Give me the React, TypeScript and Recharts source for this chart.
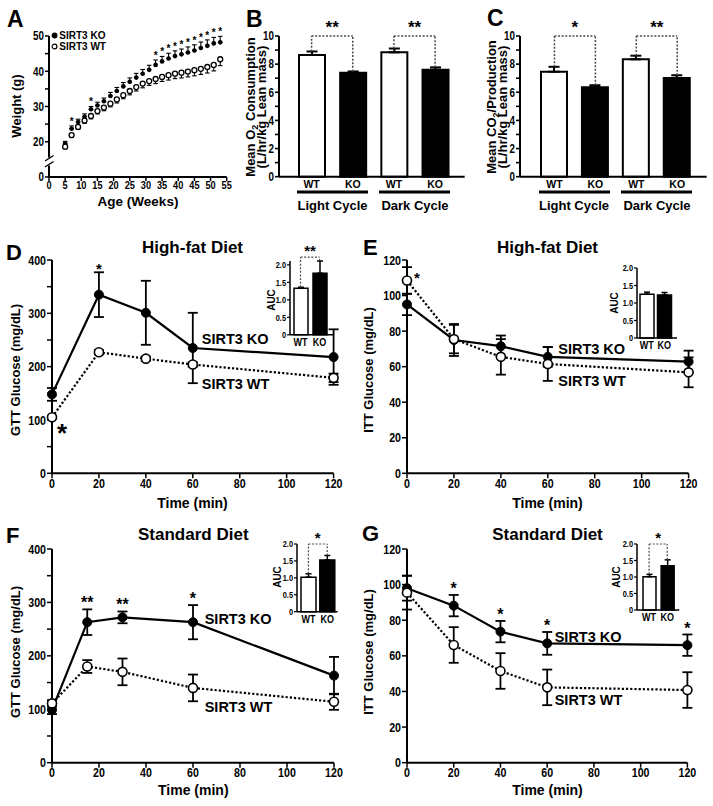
import React from 'react';
import {
  ComposedChart, ScatterChart, Scatter, Line, Bar, Cell, XAxis, YAxis,
  ErrorBar, ReferenceLine, Legend,
} from 'recharts';

const FONT = "'Liberation Sans', Arial, Helvetica, sans-serif";

// ---------- Panel A: body weight ----------
const ageWeeks = [5, 7, 9, 11, 13, 15, 17, 19, 21, 23, 25, 27, 29, 31, 33, 35, 37, 39, 41, 43, 45, 47, 49, 51, 53];
const koWeight = [19.5, 23.7, 25.6, 27.1, 29.2, 30.3, 31.5, 33.0, 34.4, 35.7, 37.0, 38.2, 39.3, 40.4, 41.8, 42.8, 43.6, 44.3, 44.8, 45.3, 45.9, 46.6, 47.2, 47.9, 48.2];
const koWeightSem = [0.6, 0.8, 0.8, 0.8, 0.8, 0.9, 0.9, 1.0, 1.0, 1.1, 1.1, 1.2, 1.2, 1.3, 1.4, 1.4, 1.5, 1.5, 1.5, 1.6, 1.6, 1.7, 1.7, 1.7, 1.7];
const wtWeight = [18.6, 21.9, 24.2, 26.0, 27.3, 28.7, 29.7, 30.8, 32.0, 33.2, 34.4, 35.5, 36.5, 37.2, 37.8, 38.4, 38.9, 39.3, 39.6, 39.9, 40.3, 40.7, 41.2, 41.8, 43.4];
const wtWeightSem = [0.6, 0.7, 0.7, 0.8, 0.8, 0.8, 0.9, 0.9, 1.0, 1.0, 1.1, 1.1, 1.2, 1.2, 1.3, 1.3, 1.4, 1.4, 1.5, 1.5, 1.6, 1.6, 1.7, 1.7, 1.8];
const weightSigWeeks = [7, 13, 33, 35, 37, 39, 41, 43, 45, 47, 49, 51, 53];
const weekTicks = [0, 5, 10, 15, 20, 25, 30, 35, 40, 45, 50, 55];
const weightTicks = [10, 15, 20, 25, 30, 35, 40, 45, 50];

// ---------- Panels B, C: indirect calorimetry ----------
const cycleIds = ['L-WT', 'L-KO', 'D-WT', 'D-KO'];
const cycleGeno = ['WT', 'KO', 'WT', 'KO'];
const o2Mean = [8.65, 7.38, 8.84, 7.6];
const o2Sem = [0.25, 0.1, 0.27, 0.17];
const o2Sig = ['**', '**'];
const co2Mean = [7.46, 6.35, 8.34, 7.01];
const co2Sem = [0.35, 0.15, 0.26, 0.2];
const co2Sig = ['*', '**'];
const calTicks = [0, 1, 2, 3, 4, 5, 6, 7, 8, 9, 10];

// ---------- Panels D-G: GTT / ITT ----------
const hfTime = [0, 20, 40, 60, 120];
const hfGttKo = [148, 335, 301, 235, 218];
const hfGttKoSem = [12, 42, 60, 66, 52];
const hfGttWt = [105, 227, 215, 204, 179];
const hfGttWtSem = [3, 4, 4, 4, 8];
const hfGttSigTimes = [20];

const hfIttKo = [95, 75, 71.5, 65.5, 62.8];
const hfIttKoSem = [6, 9, 6, 5.5, 6.2];
const hfIttWt = [108.5, 75.5, 65.5, 61.5, 56.8];
const hfIttWtSem = [7.5, 8, 10, 9.5, 8.4];
const hfIttSigTimes: number[] = [];

const sdGttTime = [0, 15, 30, 60, 120];
const sdGttKo = [99, 263, 272, 263, 163];
const sdGttKoSem = [8, 24, 11, 32, 35];
const sdGttWt = [111, 180, 170, 140, 114];
const sdGttWtSem = [6, 12, 25, 25, 15];
const sdGttSigTimes = [15, 30, 60];
const sdGttSigMarks = ['**', '**', '*'];

const sdIttTime = [0, 20, 40, 60, 120];
const sdIttKo = [98, 88.2, 73.6, 67, 66];
const sdIttKoSem = [7, 6, 6, 6.4, 6];
const sdIttWt = [95.5, 66.1, 51.5, 42.3, 40.8];
const sdIttWtSem = [9.5, 10, 10, 10, 10];
const sdIttSigTimes = [20, 40, 60, 120];

const timeTicks = [0, 20, 40, 60, 80, 100, 120];
const gttTicks = [0, 50, 100, 150, 200, 250, 300, 350, 400];
const ittTicks = [0, 20, 40, 60, 80, 100, 120];

// ---------- AUC insets ----------
const aucGroups = ['WT', 'KO'];
const hfGttAuc = [1.33, 1.76];
const hfGttAucSem = [0.03, 0.35];
const hfIttAuc = [1.25, 1.23];
const hfIttAucSem = [0.06, 0.07];
const sdGttAuc = [1.02, 1.53];
const sdGttAucSem = [0.1, 0.13];
const sdIttAuc = [1.01, 1.34];
const sdIttAucSem = [0.07, 0.18];
const aucTicks = [0, 0.5, 1, 1.5, 2];

// ---------- helpers ----------
type Plot = { x0: number; x1: number; y0: number; y1: number };
function frame(plot: Plot, yW: number, xH: number, mt: number, mr: number) {
  const L = plot.x0 - yW;
  const T = plot.y0 - mt;
  return { L, T, W: plot.x1 - L + mr, H: plot.y1 - T + xH };
}
const axisLine = { stroke: '#000', strokeWidth: 2 };
const tickLine = { stroke: '#000', strokeWidth: 1.5 };

// condensed bold tick label (the figure uses a condensed face)
function narrowTick(fs: number, orient: 'left' | 'bottom', fmt?: (v: any) => string, sx = 0.82) {
  return (props: any) => {
    const { x, y, payload } = props;
    const label = fmt ? fmt(payload.value) : String(payload.value);
    if (!label) return <g />;
    return (
      <text transform={`translate(${x},${y}) scale(${sx},1)`} textAnchor={orient === 'left' ? 'end' : 'middle'}
        dy={orient === 'left' ? '0.355em' : '0.71em'} fontSize={fs} fontWeight="bold" fontFamily={FONT} fill="#000">
        {label}
      </text>
    );
  };
}

function textShape(dx: number, dy: number, fs: number, anchor: string) {
  return (p: any) => (
    <text x={p.cx + dx} y={p.cy + dy} textAnchor={anchor} fontSize={fs} fontWeight="bold"
      fontFamily={FONT} fill="#000">{p.payload.mark}</text>
  );
}

// ---------- Panel A ----------
function WeightPanel() {
  const plot = { x0: 49.3, x1: 227, y0: 36, y1: 177 };
  const yW = 35, xH = 20, mt = 20, mr = 6;
  const f = frame(plot, yW, xH, mt, mr);
  const koRows = ageWeeks.map((w, i) => ({ week: w, w: koWeight[i], e: [0, koWeightSem[i]] }));
  const wtRows = ageWeeks.map((w, i) => ({ week: w, w: wtWeight[i], e: [wtWeightSem[i], 0] }));
  const starRows = weightSigWeeks.map((w) => {
    const i = ageWeeks.indexOf(w);
    return { week: w, w: koWeight[i] + koWeightSem[i], mark: '*' };
  });
  return (
    <div style={{ position: 'absolute', left: f.L, top: f.T }}>
      <ScatterChart width={f.W} height={f.H} margin={{ top: mt, right: mr, bottom: 0, left: 0 }}>
        <XAxis type="number" dataKey="week" domain={[0, 55]} ticks={weekTicks} interval={0}
          axisLine={axisLine} tickLine={tickLine} tickSize={4} tickMargin={0} height={xH}
          tick={narrowTick(11.5, 'bottom', undefined, 0.8)} />
        <YAxis type="number" dataKey="w" domain={[10, 50]} ticks={weightTicks} interval={0}
          width={yW} axisLine={axisLine} tickLine={tickLine} tickSize={4} tickMargin={1}
          tick={narrowTick(12, 'left', (v: number) => (v === 10 ? '0' : v % 10 === 0 ? String(v) : ''))} />
        <Legend layout="vertical" align="center" verticalAlign="middle"
          wrapperStyle={{ left: 37, top: 14, width: 90, height: 22 }}
          content={(props: any) => (
            <div style={{ fontFamily: FONT, fontWeight: 'bold', fontSize: 10, color: '#000' }}>
              {(props.payload || []).filter((e: any) => e.type !== 'none').map((e: any) => (
                <div key={e.value} style={{ height: 11, display: 'flex', alignItems: 'center' }}>
                  <svg width={7} height={7} style={{ marginRight: 1 }}>
                    <circle cx={3.5} cy={3.5} r={2.4} fill={String(e.value).includes('KO') ? '#000' : '#fff'}
                      stroke="#000" strokeWidth={1.2} />
                  </svg>
                  <span style={{ lineHeight: '11px' }}>{e.value}</span>
                </div>
              ))}
            </div>
          )} />
        <Scatter name="SIRT3 KO" data={koRows} fill="#000" isAnimationActive={false}
          shape={(p: any) => <circle cx={p.cx} cy={p.cy} r={2.3} fill="#000" />}>
          <ErrorBar dataKey="e" direction="y" width={2.3} strokeWidth={1.1} stroke="#000" />
        </Scatter>
        <Scatter name="SIRT3 WT" data={wtRows} fill="#fff" isAnimationActive={false}
          shape={(p: any) => <circle cx={p.cx} cy={p.cy} r={2.5} fill="#fff" stroke="#000" strokeWidth={1.3} />}>
          <ErrorBar dataKey="e" direction="y" width={2.3} strokeWidth={1.1} stroke="#000" />
        </Scatter>
        <Scatter name="sig" legendType="none" data={starRows} isAnimationActive={false}
          shape={textShape(0, -7 + 0.57 * 10, 10, 'middle')} />
      </ScatterChart>
    </div>
  );
}

// ---------- Bar panels (B, C and AUC insets) ----------
type Bracket = { a: number; b: number; top: number; mark: string };
function BarPanel(props: {
  plot: Plot; ids: string[]; labels: string[]; values: number[]; errs: number[];
  yMax: number; yTicks: number[]; yFmt: (v: number) => string; barSize: number;
  padding: { left: number; right: number }; brackets: Bracket[];
  yW: number; xH: number; mt: number; mr: number; tickFs: number; xTickFs: number; xNarrow: boolean;
  axisW: number; capW: number; starFs: number; starOffset: number; bracketW: number; tickSize: number; xTickMargin: number;
}) {
  const p = props;
  // the value axis is stretched when an error bar rises above the last tick
  const dataTop = Math.max(p.yMax, ...p.values.map((v, i) => v + p.errs[i]));
  const plot = { ...p.plot, y0: p.plot.y1 - ((p.plot.y1 - p.plot.y0) * dataTop) / p.yMax };
  const f = frame(plot, p.yW, p.xH, p.mt, p.mr);
  const rows = p.ids.map((id, i) => ({ id, label: p.labels[i], v: p.values[i], e: [0, p.errs[i]] }));
  const aLine = { stroke: '#000', strokeWidth: p.axisW };
  const dash = { stroke: '#4a4a4a', strokeWidth: p.bracketW, strokeDasharray: '2 1.6' };
  const labelOf = (id: string) => (rows.find((r) => r.id === id) || { label: '' }).label;
  return (
    <div style={{ position: 'absolute', left: f.L, top: f.T }}>
      <ComposedChart width={f.W} height={f.H} data={rows} margin={{ top: p.mt, right: p.mr, bottom: 0, left: 0 }}>
        <XAxis dataKey="id" type="category" padding={p.padding} axisLine={aLine} tickLine={false}
          tickSize={0} tickMargin={p.xTickMargin} height={p.xH} interval={0}
          tickFormatter={labelOf}
          tick={p.xNarrow ? narrowTick(p.xTickFs, 'bottom', labelOf) : { fontSize: p.xTickFs, fontFamily: FONT, fontWeight: 'bold', fill: '#000' }} />
        <YAxis type="number" domain={[0, p.yMax]} ticks={p.yTicks} interval={0} width={p.yW}
          axisLine={aLine} tickLine={{ stroke: '#000', strokeWidth: p.axisW * 0.8 }} tickSize={p.tickSize} tickMargin={1}
          tick={narrowTick(p.tickFs, 'left', p.yFmt)} />
        <Bar dataKey="v" barSize={p.barSize} isAnimationActive={false}>
          {rows.map((r) => (
            <Cell key={r.id} fill={r.label === 'WT' ? '#fff' : '#000'} stroke="#000" strokeWidth={p.axisW} />
          ))}
          <ErrorBar dataKey="e" direction="y" width={p.capW} strokeWidth={p.axisW} stroke="#000" />
        </Bar>
        {p.brackets.map((b, k) => (
          <ReferenceLine key={'v1' + k} ifOverflow="visible" {...dash}
            segment={[{ x: p.ids[b.a], y: p.values[b.a] + p.errs[b.a] }, { x: p.ids[b.a], y: b.top }]} />
        ))}
        {p.brackets.map((b, k) => (
          <ReferenceLine key={'v2' + k} ifOverflow="visible" {...dash}
            segment={[{ x: p.ids[b.b], y: p.values[b.b] + p.errs[b.b] }, { x: p.ids[b.b], y: b.top }]} />
        ))}
        {p.brackets.map((b, k) => (
          <ReferenceLine key={'h' + k} ifOverflow="visible" {...dash}
            segment={[{ x: p.ids[b.a], y: b.top }, { x: p.ids[b.b], y: b.top }]}
            label={{ value: b.mark, position: 'top', offset: p.starOffset, fontSize: p.starFs, fontWeight: 'bold', fill: '#000', fontFamily: FONT }} />
        ))}
      </ComposedChart>
    </div>
  );
}

// ---------- Glucose panels ----------
function GlucosePanel(props: {
  plot: Plot; times: number[]; ko: number[]; koErr: number[]; wt: number[]; wtErr: number[];
  yMax: number; yTicks: number[]; yFmt: (v: number) => string;
  sigTimes: number[]; sigMarks?: string[]; starFs: number; starGap: number;
  wtStar?: { dx: number; dy: number; fs: number };
  labelT: number; labelDx: number; koLabelDy: number; wtLabelDy: number;
}) {
  const p = props;
  const yW = 40, xH = 22, mt = 20, mr = 10;
  const f = frame(p.plot, yW, xH, mt, mr);
  const rows = p.times.map((t, i) => ({ t, ko: p.ko[i], koErr: p.koErr[i], wt: p.wt[i], wtErr: p.wtErr[i] }));
  const starRows = p.sigTimes.map((t, k) => {
    const i = p.times.indexOf(t);
    return { t, y: p.ko[i] + p.koErr[i], mark: p.sigMarks ? p.sigMarks[k] : '*' };
  });
  const li = p.times.indexOf(p.labelT);
  const koLabel = [{ t: p.labelT, y: p.ko[li], mark: 'SIRT3 KO' }];
  const wtLabel = [{ t: p.labelT, y: p.wt[li], mark: 'SIRT3 WT' }];
  const wtStarRows = p.wtStar ? [{ t: p.times[0], y: p.wt[0], mark: '*' }] : [];
  return (
    <div style={{ position: 'absolute', left: f.L, top: f.T }}>
      <ComposedChart width={f.W} height={f.H} data={rows} margin={{ top: mt, right: mr, bottom: 0, left: 0 }}>
        <XAxis type="number" dataKey="t" domain={[0, 120]} ticks={timeTicks} interval={0}
          axisLine={axisLine} tickLine={tickLine} tickSize={5} tickMargin={0} height={xH}
          tick={narrowTick(13, 'bottom')} />
        <YAxis type="number" domain={[0, p.yMax]} ticks={p.yTicks} interval={0} width={yW}
          axisLine={axisLine} tickLine={tickLine} tickSize={5} tickMargin={1}
          tick={narrowTick(13, 'left', p.yFmt)} />
        <Line dataKey="ko" name="SIRT3 KO" stroke="#000" strokeWidth={2.2} isAnimationActive={false}
          dot={{ r: 4.5, fill: '#000', stroke: '#000', strokeWidth: 1 }} activeDot={false}>
          <ErrorBar dataKey="koErr" direction="y" width={5} strokeWidth={1.8} stroke="#000" />
        </Line>
        <Line dataKey="wt" name="SIRT3 WT" stroke="#000" strokeWidth={2.2} strokeDasharray="2.2 2"
          isAnimationActive={false} dot={{ r: 4.5, fill: '#fff', stroke: '#000', strokeWidth: 1.6, strokeDasharray: '' }}
          activeDot={false}>
          <ErrorBar dataKey="wtErr" direction="y" width={5} strokeWidth={1.8} stroke="#000" />
        </Line>
        <Scatter data={starRows} dataKey="y" legendType="none" isAnimationActive={false}
          shape={textShape(0, -p.starGap + 0.57 * p.starFs, p.starFs, 'middle')} />
        {p.wtStar ? (
          <Scatter data={wtStarRows} dataKey="y" legendType="none" isAnimationActive={false}
            shape={textShape(p.wtStar.dx, p.wtStar.dy + 0.57 * p.wtStar.fs, p.wtStar.fs, 'middle')} />
        ) : null}
        <Scatter data={koLabel} dataKey="y" legendType="none" isAnimationActive={false}
          shape={textShape(p.labelDx, p.koLabelDy, 14.5, 'start')} />
        <Scatter data={wtLabel} dataKey="y" legendType="none" isAnimationActive={false}
          shape={textShape(p.labelDx, p.wtLabelDy, 14.5, 'start')} />
      </ComposedChart>
    </div>
  );
}

const gttFmt = (v: number) => (v % 100 === 0 ? String(v) : '');
const ittFmt = (v: number) => String(v);
const calFmt = (v: number) => (v % 2 === 0 ? String(v) : '');
const aucFmt = (v: number) => (v === 0 ? '0' : v.toFixed(1));

function AucInset(props: { plot: Plot; values: number[]; errs: number[]; barSize: number; padding: { left: number; right: number }; brackets: Bracket[]; starOffset: number; starFs: number }) {
  return (
    <BarPanel plot={props.plot} ids={aucGroups} labels={aucGroups} values={props.values} errs={props.errs}
      yMax={2} yTicks={aucTicks} yFmt={aucFmt} barSize={props.barSize} padding={props.padding}
      brackets={props.brackets} yW={16} xH={14} mt={25} mr={4} tickFs={9} xTickFs={11} xNarrow={true}
      axisW={1.5} capW={3} starFs={props.starFs} starOffset={props.starOffset} bracketW={1.2} tickSize={3} xTickMargin={3} />
  );
}

function VText({ x, y, fs, children }: { x: number; y: number; fs: number; children: any }) {
  return (
    <text transform={`translate(${x},${y}) rotate(-90)`} textAnchor="middle" fontSize={fs}>{children}</text>
  );
}

function Overlay() {
  return (
    <svg width={713} height={806} style={{ position: 'absolute', left: 0, top: 0, pointerEvents: 'none' }}>
      <g fontFamily={FONT} fontWeight="bold" fill="#000">
        <text x={7} y={27} fontSize={23}>A</text>
        <text x={246} y={27} fontSize={23}>B</text>
        <text x={487} y={26} fontSize={23}>C</text>
        <text x={6} y={260} fontSize={22}>D</text>
        <text x={363} y={255} fontSize={22}>E</text>
        <text x={6} y={543} fontSize={22}>F</text>
        <text x={362} y={541} fontSize={22}>G</text>

        <text x={192.5} y={252.5} fontSize={17} textAnchor="middle">High-fat Diet</text>
        <text x={547.5} y={252.5} fontSize={17} textAnchor="middle">High-fat Diet</text>
        <text x={193.3} y={540} fontSize={17} textAnchor="middle">Standard Diet</text>
        <text x={547.5} y={540} fontSize={17} textAnchor="middle">Standard Diet</text>

        <VText x={21} y={106} fs={13}>Weight (g)</VText>
        <text x={138} y={206} fontSize={13.5} textAnchor="middle">Age (Weeks)</text>

        <VText x={255} y={107} fs={13}>Mean O<tspan fontSize={9} dy={3}>2</tspan><tspan dy={-3}> Consumption</tspan></VText>
        <VText x={266} y={107} fs={13}>(L/hr/kg Lean mass)</VText>
        <VText x={495.7} y={107} fs={13}>Mean CO<tspan fontSize={9} dy={3}>2</tspan><tspan dy={-3}>/Production</tspan></VText>
        <VText x={506.7} y={107} fs={13}>(L/hr/kg Lean mass)</VText>

        <rect x={297} y={190.5} width={71} height={3} />
        <rect x={379} y={190.5} width={71} height={3} />
        <rect x={539} y={190.5} width={71} height={3} />
        <rect x={621} y={190.5} width={71} height={3} />
        <text x={332.5} y={210} fontSize={13} textAnchor="middle">Light Cycle</text>
        <text x={415} y={210} fontSize={13} textAnchor="middle">Dark Cycle</text>
        <text x={574} y={210} fontSize={13} textAnchor="middle">Light Cycle</text>
        <text x={657} y={210} fontSize={13} textAnchor="middle">Dark Cycle</text>

        <VText x={19.5} y={370} fs={13}>GTT Glucose (mg/dL)</VText>
        <VText x={373} y={370} fs={13}>ITT Glucose (mg/dL)</VText>
        <VText x={19.5} y={652} fs={13}>GTT Glucose (mg/dL)</VText>
        <VText x={373} y={652} fs={13}>ITT Glucose (mg/dL)</VText>
        <text x={192.5} y={508} fontSize={14} textAnchor="middle">Time (min)</text>
        <text x={547.5} y={508} fontSize={14} textAnchor="middle">Time (min)</text>
        <text x={193.3} y={795} fontSize={14} textAnchor="middle">Time (min)</text>
        <text x={547.5} y={795} fontSize={14} textAnchor="middle">Time (min)</text>

        <VText x={275} y={300} fs={10}>AUC</VText>
        <VText x={618} y={303} fs={10}>AUC</VText>
        <VText x={281} y={577} fs={10}>AUC</VText>
        <VText x={619.5} y={577} fs={10}>AUC</VText>
      </g>
      <rect x={45} y={157.5} width={9} height={8} fill="#fff" />
      <line x1={45} y1={161} x2={53.5} y2={155.5} stroke="#000" strokeWidth={1.4} />
      <line x1={45} y1={167} x2={53.5} y2={161.5} stroke="#000" strokeWidth={1.4} />
    </svg>
  );
}

export default function App() {
  return (
    <div style={{ position: 'absolute', left: 0, top: 0, width: 713, height: 806, background: '#fff', overflow: 'hidden' }}>
      <WeightPanel />
      <BarPanel plot={{ x0: 279.3, x1: 465, y0: 36, y1: 176.7 }} ids={cycleIds} labels={cycleGeno}
        values={o2Mean} errs={o2Sem} yMax={10} yTicks={calTicks} yFmt={calFmt} barSize={26}
        padding={{ left: 12, right: 9 }}
        brackets={[{ a: 0, b: 1, top: 10, mark: o2Sig[0] }, { a: 2, b: 3, top: 10, mark: o2Sig[1] }]}
        yW={25} xH={15} mt={30} mr={5} tickFs={12} xTickFs={10.5} xNarrow={false} axisW={2} capW={5.5}
        starFs={17} starOffset={3} bracketW={1.5} tickSize={4} xTickMargin={4} />
      <BarPanel plot={{ x0: 520, x1: 706.7, y0: 36, y1: 176.7 }} ids={cycleIds} labels={cycleGeno}
        values={co2Mean} errs={co2Sem} yMax={10} yTicks={calTicks} yFmt={calFmt} barSize={26}
        padding={{ left: 14, right: 9 }}
        brackets={[{ a: 0, b: 1, top: 10, mark: co2Sig[0] }, { a: 2, b: 3, top: 10, mark: co2Sig[1] }]}
        yW={25} xH={15} mt={30} mr={5} tickFs={12} xTickFs={10.5} xNarrow={false} axisW={2} capW={5.5}
        starFs={17} starOffset={3} bracketW={1.5} tickSize={4} xTickMargin={4} />

      <GlucosePanel plot={{ x0: 51.7, x1: 333.3, y0: 260, y1: 473.3 }} times={hfTime}
        ko={hfGttKo} koErr={hfGttKoSem} wt={hfGttWt} wtErr={hfGttWtSem} yMax={400} yTicks={gttTicks} yFmt={gttFmt}
        sigTimes={hfGttSigTimes} starFs={15} starGap={7} wtStar={{ dx: 10, dy: 9.4, fs: 26 }}
        labelT={60} labelDx={9} koLabelDy={-3.7} wtLabelDy={24} />
      <GlucosePanel plot={{ x0: 406.7, x1: 688.3, y0: 260, y1: 473.3 }} times={hfTime}
        ko={hfIttKo} koErr={hfIttKoSem} wt={hfIttWt} wtErr={hfIttWtSem} yMax={120} yTicks={ittTicks} yFmt={ittFmt}
        sigTimes={hfIttSigTimes} starFs={15} starGap={7} wtStar={{ dx: 10, dy: -5.7, fs: 15 }}
        labelT={60} labelDx={10.5} koLabelDy={-2.7} wtLabelDy={21.7} />
      <GlucosePanel plot={{ x0: 52.3, x1: 334.3, y0: 549, y1: 762.7 }} times={sdGttTime}
        ko={sdGttKo} koErr={sdGttKoSem} wt={sdGttWt} wtErr={sdGttWtSem} yMax={400} yTicks={gttTicks} yFmt={gttFmt}
        sigTimes={sdGttSigTimes} sigMarks={sdGttSigMarks} starFs={16} starGap={10.5}
        labelT={60} labelDx={11.7} koLabelDy={1.7} wtLabelDy={23.7} />
      <GlucosePanel plot={{ x0: 407.3, x1: 687.7, y0: 549, y1: 762.7 }} times={sdIttTime}
        ko={sdIttKo} koErr={sdIttKoSem} wt={sdIttWt} wtErr={sdIttWtSem} yMax={120} yTicks={ittTicks} yFmt={ittFmt}
        sigTimes={sdIttSigTimes} starFs={16} starGap={10}
        labelT={60} labelDx={7.5} koLabelDy={-1.6} wtLabelDy={17.7} />

      <AucInset plot={{ x0: 290, x1: 333, y0: 265, y1: 335 }} values={hfGttAuc} errs={hfGttAucSem} barSize={14}
        padding={{ left: 1, right: 4 }} brackets={[{ a: 0, b: 1, top: 2.22, mark: '**' }]} starOffset={1.5} starFs={15} />
      <AucInset plot={{ x0: 636.7, x1: 676.7, y0: 268.3, y1: 338.3 }} values={hfIttAuc} errs={hfIttAucSem} barSize={14}
        padding={{ left: 1, right: 4 }} brackets={[]} starOffset={1} starFs={15} />
      <AucInset plot={{ x0: 296.7, x1: 337.3, y0: 544, y1: 611.7 }} values={sdGttAuc} errs={sdGttAucSem} barSize={15}
        padding={{ left: 2, right: 1 }} brackets={[{ a: 0, b: 1, top: 2.0, mark: '*' }]} starOffset={0.5} starFs={15} />
      <AucInset plot={{ x0: 636.7, x1: 679, y0: 544, y1: 610 }} values={sdIttAuc} errs={sdIttAucSem} barSize={13}
        padding={{ left: 3, right: 3 }} brackets={[{ a: 0, b: 1, top: 2.0, mark: '*' }]} starOffset={1} starFs={15} />

      <Overlay />
    </div>
  );
}
